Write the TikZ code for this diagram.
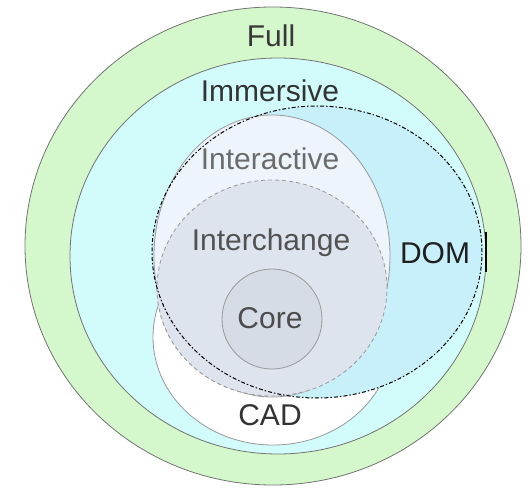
\documentclass[tikz,border=0pt]{standalone}
\usepackage{fontspec}
\setmainfont{Liberation Sans}
\definecolor{fullgreen}{HTML}{D4F8CC}
\definecolor{immcyan}{HTML}{D2FCFC}
\definecolor{domblue}{HTML}{C8F0FA}
\definecolor{interact}{HTML}{EDF4FC}
\definecolor{interchg}{HTML}{DDE4ED}
\definecolor{interchgout}{HTML}{E8E8E8}
\definecolor{corefill}{HTML}{D5DCE6}
\tikzset{
  lbl/.style={anchor=base, font=\fontsize{30}{30}\selectfont, inner sep=0pt},
  setline/.style={draw=black!55, line width=0.8pt},
  dashline/.style={draw=black!40, line width=0.8pt, dash pattern=on 4pt off 3pt},
  domline/.style={draw=black, line width=1pt, dash pattern=on 4pt off 2pt on 1.5pt off 2pt}
}
\begin{document}
\begin{tikzpicture}[x=1pt,y=-1pt]
\useasboundingbox (0,0) rectangle (530,489);
% Full
\path[fill=fullgreen, setline] (273,246) ellipse [x radius=248pt, y radius=239pt];
% Immersive
\path[fill=immcyan, setline] (278,256) ellipse [x radius=208pt, y radius=198pt];
% CAD
\path[fill=white, draw=black!40, line width=0.8pt] (273,337) ellipse [x radius=120pt, y radius=108pt];
% Interchange part outside DOM
\path[fill=interchgout, dashline] (272,288) ellipse [x radius=115pt, y radius=108pt];
% DOM fill
\path[fill=domblue] (317,252) ellipse [x radius=165pt, y radius=146pt];
% Interactive
\path[fill=interact, draw=black!40, line width=0.8pt] (272,256) ellipse [x radius=118pt, y radius=141pt];
% Interchange
\path[fill=interchg, dashline] (272,288) ellipse [x radius=115pt, y radius=108pt];
% Core
\path[fill=corefill, draw=black!40, line width=0.8pt] (272,319) circle [radius=50pt];
% DOM outline
\path[domline] (317,252) ellipse [x radius=165pt, y radius=146pt];
\draw[line width=1.2pt] (486,232) -- (486,272);
% Labels
\node[lbl, text=black!78] (full) at (271,47) {Full};
\node[lbl, text=black!80] (immersive) at (270,102) {Immersive};
\node[lbl, text=black!58] (interactive) at (270,170) {Interactive};
\node[lbl, text=black!68] (interchange) at (271,251) {Interchange};
\node[lbl, text=black!70] (core) at (270,328) {Core};
\node[lbl, text=black!88] (dom) at (435,263) {DOM};
\node[lbl, text=black!80] (cad) at (270,425) {CAD};
\end{tikzpicture}
\end{document}
